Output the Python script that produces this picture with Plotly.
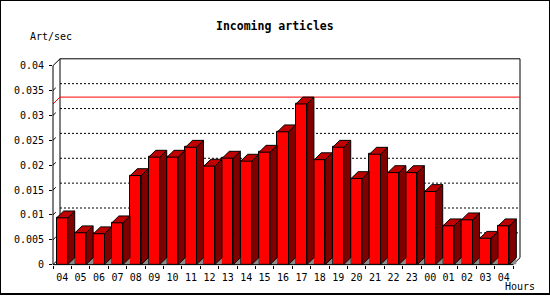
import plotly.graph_objects as go

# ---- data ----
hours = ["04", "05", "06", "07", "08", "09", "10", "11", "12", "13", "14", "15",
         "16", "17", "18", "19", "20", "21", "22", "23", "00", "01", "02", "03", "04"]
rates = [0.0094, 0.0064, 0.0062, 0.0084, 0.0179, 0.0216, 0.0216, 0.0236, 0.0198,
         0.0214, 0.0208, 0.0226, 0.0267, 0.0323, 0.0211, 0.0236, 0.0173, 0.0222,
         0.0185, 0.0185, 0.0147, 0.0078, 0.0090, 0.0053, 0.0078]
ytick_vals = [0, 0.005, 0.01, 0.015, 0.02, 0.025, 0.03, 0.035, 0.04]
ytick_text = ["0", "0.005", "0.01", "0.015", "0.02", "0.025", "0.03", "0.035", "0.04"]
title_text = "Incoming articles"
ylabel = "Art/sec"
xlabel = "Hours"

# ---- geometry ----
W, H = 550, 300
PX_L, PX_R = 53, 520          # plot area (front-left to back-right) in px
PY_B, PY_T = 270, 60
YMAX = 0.04
n = len(hours)
px_per_cat = (PX_R - 7 - PX_L) / n
px_per_val = (PY_B - 7 - PY_T) / YMAX
DX = 7 / px_per_cat            # depth offset in category units
DY = 7 / px_per_val            # depth offset in value units
XR = [-0.5, n - 0.5 + DX]
YR = [0, YMAX + DY]
dom_x = [PX_L / W, PX_R / W]
dom_y = [1 - PY_B / H, 1 - PY_T / H]
BW = 0.6

def pxp(x):
    return dom_x[0] + (x - XR[0]) / (XR[1] - XR[0]) * (dom_x[1] - dom_x[0])

def pyp(y):
    return dom_y[0] + (y - YR[0]) / (YR[1] - YR[0]) * (dom_y[1] - dom_y[0])

idx = list(range(n))
font = "DejaVu Sans Mono"

fig = go.Figure()

# max line on back wall
vmax = max(rates)
fig.add_trace(go.Scatter(x=[-0.5, -0.5 + DX, n - 0.5 + DX], y=[vmax, vmax + DY, vmax + DY],
                         mode="lines", line=dict(color="#ff0000", width=1), hoverinfo="skip"))

# front faces
fig.add_trace(go.Bar(x=idx, y=rates, width=BW,
                     marker=dict(color="#ff0000", line=dict(color="black", width=1))))

# side faces, top faces, floor shadows
sx, sy, tx, ty, gx, gy = [], [], [], [], [], []
for i, v in zip(idx, rates):
    xl, xr = i - BW / 2, i + BW / 2
    sx += [xr, xr, xr + DX, xr + DX, xr, None]
    sy += [0, v, v + DY, DY, 0, None]
    tx += [xl, xr, xr + DX, xl + DX, xl, None]
    ty += [v, v, v + DY, v + DY, v, None]
    gx += [xr, xr + DX, xr + DX, xr, None]
    gy += [0, DY, 0, 0, None]

fig.add_trace(go.Scatter(x=gx, y=gy, mode="lines", fill="toself", fillcolor="#8c8c8c",
                         line=dict(color="#8c8c8c", width=0), hoverinfo="skip"))
fig.add_trace(go.Scatter(x=sx, y=sy, mode="lines", fill="toself", fillcolor="#800000",
                         line=dict(color="black", width=1), hoverinfo="skip"))
fig.add_trace(go.Scatter(x=tx, y=ty, mode="lines", fill="toself", fillcolor="#c00000",
                         line=dict(color="black", width=1), hoverinfo="skip"))

shapes = []
def seg(x0, y0, x1, y1, dash="solid", layer="below", color="black"):
    shapes.append(dict(type="line", xref="paper", yref="paper",
                       x0=pxp(x0), y0=pyp(y0), x1=pxp(x1), y1=pyp(y1),
                       line=dict(color=color, width=1, dash=dash), layer=layer))

# back wall grid
for v in ytick_vals[1:-1]:
    seg(-0.5 + DX, v + DY, n - 0.5 + DX, v + DY, dash="2px,2px")
# back wall box
seg(-0.5 + DX, YMAX + DY, n - 0.5 + DX, YMAX + DY)
seg(-0.5 + DX, DY, -0.5 + DX, YMAX + DY)
seg(n - 0.5 + DX, DY, n - 0.5 + DX, YMAX + DY)
# depth edges
seg(-0.5, YMAX, -0.5 + DX, YMAX + DY)
seg(-0.5, 0, -0.5 + DX, DY)
seg(n - 0.5, 0, n - 0.5 + DX, DY)
# small depth ticks
for v in ytick_vals[1:-1]:
    seg(-0.5, v, -0.5 + DX * 0.4, v + DY * 0.4)
# front axes
seg(-0.5, 0, -0.5, YMAX, layer="above")
seg(-0.5, 0, n - 0.5, 0, layer="above")
# outer frame
shapes.append(dict(type="rect", xref="paper", yref="paper", x0=0, y0=0, x1=1, y1=1,
                   line=dict(color="black", width=2)))

fig.update_layout(
    width=W, height=H, autosize=False,
    margin=dict(l=0, r=0, t=0, b=0),
    paper_bgcolor="white", plot_bgcolor="rgba(0,0,0,0)",
    showlegend=False, bargap=0,
    shapes=shapes,
    xaxis=dict(domain=dom_x, range=XR, tickmode="array", tickvals=idx, ticktext=hours,
               ticks="outside", ticklen=3, tickcolor="rgba(0,0,0,0)",
               minor=dict(tick0=-0.5, dtick=1, ticks="outside", ticklen=3, tickcolor="black"),
               showgrid=False, zeroline=False, showline=False,
               tickfont=dict(family=font, size=10, color="black")),
    yaxis=dict(domain=dom_y, range=YR, tickmode="array", tickvals=ytick_vals, ticktext=ytick_text,
               ticks="outside", ticklen=3, tickcolor="black", ticklabelstandoff=3,
               showgrid=False, zeroline=False, showline=False,
               tickfont=dict(family=font, size=10, color="black")),
    annotations=[
        dict(text="<b>" + title_text + "</b>", xref="paper", yref="paper", x=0.5, y=1 - 27 / H,
             xanchor="center", yanchor="middle", showarrow=False,
             font=dict(family=font, size=11.5, color="black")),
        dict(text=ylabel, xref="paper", yref="paper", x=50.5 / W, y=1 - 37 / H,
             xanchor="center", yanchor="middle", showarrow=False,
             font=dict(family=font, size=10, color="black")),
        dict(text=xlabel, xref="paper", yref="paper", x=519.5 / W, y=1 - 292 / H,
             xanchor="center", yanchor="middle", showarrow=False,
             font=dict(family=font, size=10, color="black")),
    ],
)

fig.write_html("out.html")
